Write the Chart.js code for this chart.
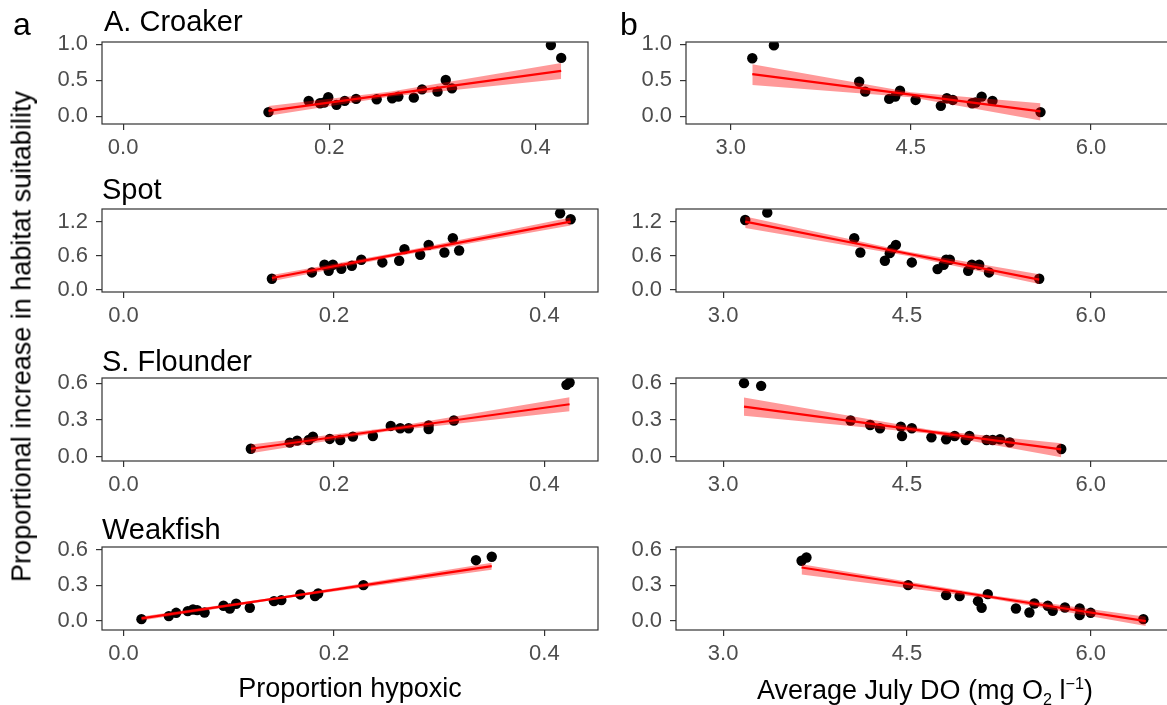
<!DOCTYPE html>
<html>
<head>
<meta charset="utf-8">
<script src="https://cdn.jsdelivr.net/npm/chart.js@4.4.0/dist/chart.umd.min.js"></script>
<style>
  body { margin: 0; width: 1167px; height: 705px; overflow: hidden; background: #fff; position: relative;
         font-family: "Liberation Sans", Arial, sans-serif; }
  canvas { position: absolute; }
  .lbl { position: absolute; white-space: nowrap; color: #000; line-height: 1; }
</style>
</head>
<body>
<script>
// tick values
const hypTicks = [0.0, 0.2, 0.4];
const doTicks = [3.0, 4.5, 6.0];
const yTicksCroaker = [0.0, 0.5, 1.0];
const yTicksSpot = [0.0, 0.6, 1.2];
const yTicksSmall = [0.0, 0.3, 0.6];

// A. Croaker
const croakerHypX = [0.141, 0.180, 0.191, 0.195, 0.199, 0.207, 0.215, 0.226, 0.246, 0.261, 0.267, 0.282, 0.290, 0.305, 0.313, 0.319, 0.415, 0.425];
const croakerHypY = [0.060, 0.216, 0.183, 0.193, 0.266, 0.161, 0.216, 0.243, 0.239, 0.252, 0.275, 0.261, 0.376, 0.344, 0.505, 0.390, 0.991, 0.812];
const croakerHypFitX = [0.141, 0.26, 0.425];
const croakerHypFit = [0.078, 0.31, 0.633];
const croakerHypLo = [0.01, 0.275, 0.52];
const croakerHypHi = [0.146, 0.345, 0.74];

const croakerDoX = [3.18, 3.36, 4.07, 4.12, 4.32, 4.37, 4.41, 4.54, 4.75, 4.80, 4.85, 5.01, 5.04, 5.09, 5.18, 5.58];
const croakerDoY = [0.807, 0.986, 0.482, 0.344, 0.243, 0.275, 0.358, 0.229, 0.147, 0.252, 0.229, 0.183, 0.193, 0.275, 0.216, 0.060];
const croakerDoFitX = [3.18, 4.5, 5.58];
const croakerDoFit = [0.587, 0.302, 0.069];
const croakerDoLo = [0.436, 0.267, -0.055];
const croakerDoHi = [0.725, 0.337, 0.183];

// Spot
const spotHypX = [0.141, 0.179, 0.191, 0.195, 0.199, 0.207, 0.217, 0.226, 0.246, 0.262, 0.267, 0.282, 0.290, 0.305, 0.313, 0.319, 0.415, 0.425];
const spotHypY = [0.193, 0.304, 0.439, 0.334, 0.439, 0.369, 0.422, 0.527, 0.480, 0.509, 0.714, 0.615, 0.790, 0.656, 0.907, 0.691, 1.347, 1.241];
const spotHypFitX = [0.141, 0.26, 0.425];
const spotHypFit = [0.205, 0.622, 1.20];
const spotHypLo = [0.15, 0.59, 1.13];
const spotHypHi = [0.26, 0.655, 1.27];

const spotDoX = [3.18, 3.36, 4.07, 4.12, 4.32, 4.36, 4.38, 4.41, 4.54, 4.75, 4.80, 4.82, 4.85, 5.00, 5.03, 5.09, 5.17, 5.58];
const spotDoY = [1.229, 1.358, 0.907, 0.656, 0.509, 0.644, 0.714, 0.790, 0.480, 0.363, 0.439, 0.527, 0.527, 0.334, 0.439, 0.439, 0.304, 0.193];
const spotDoFitX = [3.18, 4.5, 5.58];
const spotDoFit = [1.20, 0.637, 0.176];
const spotDoLo = [1.085, 0.60, 0.10];
const spotDoHi = [1.29, 0.675, 0.27];

// S. Flounder
const flounderHypX = [0.121, 0.158, 0.165, 0.176, 0.180, 0.196, 0.206, 0.218, 0.237, 0.254, 0.263, 0.271, 0.290, 0.290, 0.314, 0.421, 0.424];
const flounderHypY = [0.065, 0.115, 0.131, 0.136, 0.164, 0.145, 0.136, 0.164, 0.169, 0.251, 0.232, 0.232, 0.225, 0.255, 0.295, 0.586, 0.605];
const flounderHypFitX = [0.121, 0.25, 0.424];
const flounderHypFit = [0.065, 0.22, 0.428];
const flounderHypLo = [0.028, 0.205, 0.37];
const flounderHypHi = [0.10, 0.235, 0.485];

const flounderDoX = [3.17, 3.31, 4.04, 4.20, 4.28, 4.45, 4.46, 4.54, 4.70, 4.82, 4.89, 4.98, 5.01, 5.15, 5.20, 5.26, 5.34, 5.76];
const flounderDoY = [0.600, 0.578, 0.295, 0.259, 0.232, 0.245, 0.169, 0.232, 0.158, 0.142, 0.169, 0.136, 0.169, 0.136, 0.136, 0.142, 0.117, 0.063];
const flounderDoFitX = [3.17, 4.7, 5.76];
const flounderDoFit = [0.409, 0.203, 0.06];
const flounderDoLo = [0.335, 0.188, -0.005];
const flounderDoHi = [0.483, 0.218, 0.11];

// Weakfish
const weakHypX = [0.017, 0.043, 0.050, 0.061, 0.066, 0.070, 0.077, 0.095, 0.101, 0.107, 0.120, 0.143, 0.150, 0.168, 0.182, 0.185, 0.228, 0.335, 0.350];
const weakHypY = [0.011, 0.037, 0.065, 0.079, 0.093, 0.088, 0.068, 0.125, 0.102, 0.142, 0.108, 0.164, 0.173, 0.221, 0.207, 0.229, 0.300, 0.512, 0.541];
const weakHypFitX = [0.017, 0.15, 0.35];
const weakHypFit = [0.017, 0.194, 0.461];
const weakHypLo = [0.0, 0.185, 0.43];
const weakHypHi = [0.034, 0.203, 0.49];

const weakDoX = [3.64, 3.68, 4.51, 4.82, 4.93, 5.08, 5.11, 5.16, 5.39, 5.50, 5.54, 5.65, 5.69, 5.79, 5.91, 5.91, 6.00, 6.43];
const weakDoY = [0.507, 0.535, 0.300, 0.215, 0.207, 0.164, 0.108, 0.224, 0.102, 0.068, 0.144, 0.125, 0.082, 0.110, 0.102, 0.045, 0.065, 0.011];
const weakDoFitX = [3.64, 5.2, 6.45];
const weakDoFit = [0.45, 0.197, -0.006];
const weakDoLo = [0.39, 0.183, -0.048];
const weakDoHi = [0.478, 0.211, 0.031];

const FONT = '"Liberation Sans", Arial, sans-serif';

function pts(xs, ys) {
  return xs.map((x, i) => ({ x: x, y: ys[i] }));
}

// frame around each panel
const boxPlugin = {
  id: 'box',
  afterDatasetsDraw(chart) {
    const a = chart.chartArea, ctx = chart.ctx;
    ctx.save();
    ctx.strokeStyle = '#333';
    ctx.lineWidth = 1.2;
    ctx.strokeRect(a.left, a.top, a.right - a.left, a.bottom - a.top);
    ctx.restore();
  }
};

function axisOpts(min, max, ticks, pad) {
  return {
    type: 'linear', min: min, max: max,
    border: { display: false },
    grid: { drawOnChartArea: false, drawTicks: true, tickLength: 6, color: '#333', lineWidth: 1.2 },
    ticks: { font: { family: FONT, size: 22 }, color: '#4d4d4d', padding: pad,
             autoSkip: false, maxRotation: 0, callback: v => v.toFixed(1) },
    afterBuildTicks: s => { s.ticks = ticks.map(v => ({ value: v })); }
  };
}

function panel(p) {
  // generous margins so tick labels never push the plot area
  const padL = 80, padT = 30, padR = 30, padB = 50;
  const W = p.w + padL + padR, H = p.h + padT + padB;
  const cv = document.createElement('canvas');
  cv.width = W; cv.height = H;
  cv.style.width = W + 'px'; cv.style.height = H + 'px';
  cv.style.left = (p.x - padL) + 'px'; cv.style.top = (p.y - padT) + 'px';
  document.body.appendChild(cv);

  const xs = axisOpts(p.xr[0], p.xr[1], p.xt, 5);
  xs.afterFit = s => { s.height = padB; };
  const ys = axisOpts(p.yr[0], p.yr[1], p.yt, 8);
  ys.afterFit = s => { s.width = padL; };

  new Chart(cv, {
    type: 'scatter',
    data: {
      datasets: [
        { type: 'line', showLine: true, data: pts(p.fx, p.fit), borderColor: '#ff0000', borderWidth: 2.2,
          pointRadius: 0, fill: false, order: 0, clip: 0 },
        { type: 'line', showLine: true, data: pts(p.fx, p.lo), borderColor: 'rgba(0,0,0,0)', borderWidth: 0,
          pointRadius: 0, fill: false, order: 1, clip: 0 },
        { type: 'line', showLine: true, data: pts(p.fx, p.hi), borderColor: 'rgba(0,0,0,0)', borderWidth: 0,
          pointRadius: 0, fill: '-1', backgroundColor: 'rgba(255,0,0,0.4)', order: 1, clip: 0 },
        { data: pts(p.px, p.py), backgroundColor: '#000', borderWidth: 0, pointRadius: 5.2,
          pointHoverRadius: 5.2, order: 2, clip: 0 }
      ]
    },
    options: {
      responsive: false, animation: false, devicePixelRatio: 1,
      layout: { padding: { left: 0, top: padT, right: padR, bottom: 0 } },
      plugins: { legend: { display: false }, tooltip: { enabled: false } },
      scales: { x: xs, y: ys }
    },
    plugins: [boxPlugin]
  });
}

const hypRange = [-0.0205, 0.451];
const rows = [
  { y: 42, h: 82, yr: [-0.105, 1.033], yt: yTicksCroaker, lw: 486, rx: 686, rw: 486, dr: [2.628, 6.675],
    left: [croakerHypX, croakerHypY, croakerHypFitX, croakerHypFit, croakerHypLo, croakerHypHi],
    right: [croakerDoX, croakerDoY, croakerDoFitX, croakerDoFit, croakerDoLo, croakerDoHi] },
  { y: 209, h: 83, yr: [-0.041, 1.422], yt: yTicksSpot, lw: 496, rx: 676, rw: 497, dr: [2.615, 6.672],
    left: [spotHypX, spotHypY, spotHypFitX, spotHypFit, spotHypLo, spotHypHi],
    right: [spotDoX, spotDoY, spotDoFitX, spotDoFit, spotDoLo, spotDoHi] },
  { y: 378, h: 83, yr: [-0.035, 0.642], yt: yTicksSmall, lw: 496, rx: 676, rw: 497, dr: [2.615, 6.672],
    left: [flounderHypX, flounderHypY, flounderHypFitX, flounderHypFit, flounderHypLo, flounderHypHi],
    right: [flounderDoX, flounderDoY, flounderDoFitX, flounderDoFit, flounderDoLo, flounderDoHi] },
  { y: 547, h: 83, yr: [-0.081, 0.624], yt: yTicksSmall, lw: 496, rx: 676, rw: 497, dr: [2.615, 6.672],
    left: [weakHypX, weakHypY, weakHypFitX, weakHypFit, weakHypLo, weakHypHi],
    right: [weakDoX, weakDoY, weakDoFitX, weakDoFit, weakDoLo, weakDoHi] }
];

rows.forEach(r => {
  const L = r.left, R = r.right;
  panel({ x: 102, y: r.y, w: r.lw, h: r.h, xr: hypRange, xt: hypTicks, yr: r.yr, yt: r.yt,
          px: L[0], py: L[1], fx: L[2], fit: L[3], lo: L[4], hi: L[5] });
  panel({ x: r.rx, y: r.y, w: r.rw, h: r.h, xr: r.dr, xt: doTicks, yr: r.yr, yt: r.yt,
          px: R[0], py: R[1], fx: R[2], fit: R[3], lo: R[4], hi: R[5] });
});

// text labels; baseline -> top for line-height 1
function label(html, x, baseline, size, align) {
  const d = document.createElement('div');
  d.className = 'lbl';
  d.innerHTML = html;
  d.style.fontSize = size + 'px';
  d.style.top = (baseline - 0.8465 * size) + 'px';
  if (align === 'center') {
    d.style.left = (x - 400) + 'px'; d.style.width = '800px'; d.style.textAlign = 'center';
  } else {
    d.style.left = x + 'px';
  }
  document.body.appendChild(d);
  return d;
}

label('a', 13, 35, 32);
label('b', 620, 35, 32);
label('A. Croaker', 104, 31.5, 29);
label('Spot', 102, 200, 29);
label('S. Flounder', 102, 371.5, 29);
label('Weakfish', 102, 540, 29);
label('Proportion hypoxic', 350, 698, 27, 'center');
label('Average July DO (mg O<sub style="font-size:0.6em">2</sub> l<sup style="font-size:0.6em">\u22121</sup>)', 925, 698, 27, 'center');

const yt = document.createElement('div');
yt.className = 'lbl';
yt.textContent = 'Proportional increase in habitat suitability';
yt.style.fontSize = '27px';
yt.style.width = '700px';
yt.style.textAlign = 'center';
yt.style.left = (22 - 350) + 'px';
yt.style.top = (336 - 13.5) + 'px';
yt.style.transform = 'rotate(-90deg)';
document.body.appendChild(yt);
</script>
</body>
</html>
